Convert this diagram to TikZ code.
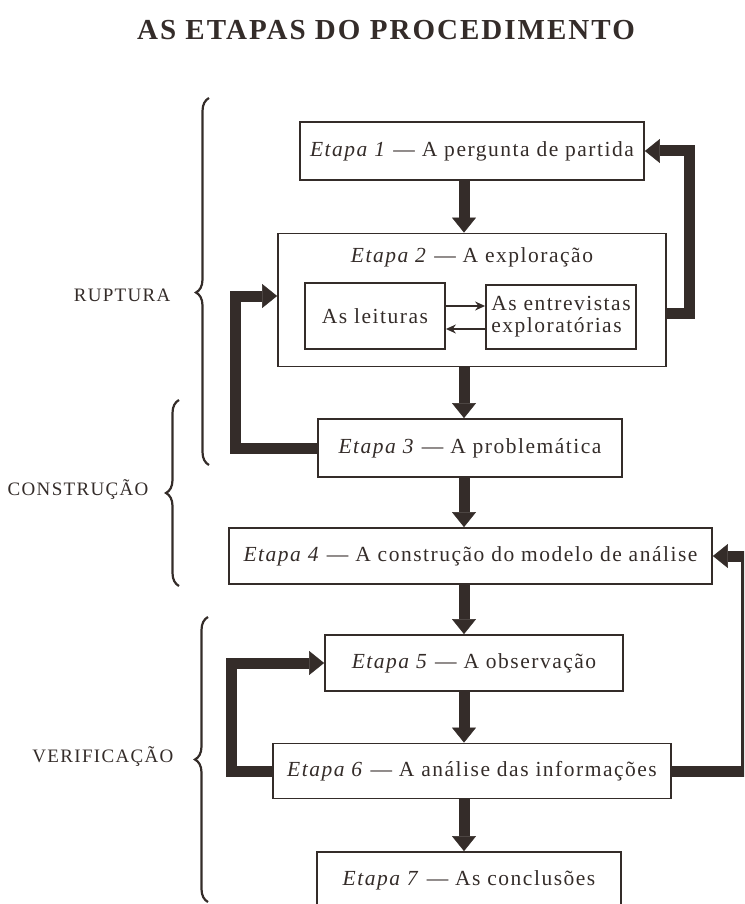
\documentclass[tikz,border=0pt]{standalone}
\usepackage{fontspec}
\setmainfont{Liberation Serif}[LetterSpace=7]
\usetikzlibrary{arrows.meta,decorations.pathreplacing}

\definecolor{ink}{RGB}{52,44,41}

\tikzset{
  etapa/.style={draw=ink, line width=1.8pt, minimum height=58pt, inner sep=0pt,
    text=ink, font=\fontsize{21.5}{22}\selectfont},
  grosso/.style={draw=ink, line width=11pt, line join=miter,
    -{Triangle[length=15pt,width=24pt,line width=0.5pt]}},
  fino/.style={draw=ink, line width=1.5pt, -{Stealth[length=10pt,width=9pt]}},
  chave/.style={draw=ink, line width=2.2pt, decorate,
    decoration={brace,amplitude=13pt}},
  fase/.style={anchor=east, text=ink, font=\fontsize{19}{20}\selectfont},
}

\begin{document}
\begin{tikzpicture}[x=1pt,y=-1pt]

      \useasboundingbox (0,0) rectangle (744,904);
      \clip (0,0) rectangle (744,904);

      \node[text=ink, font=\bfseries\fontsize{29}{30}\selectfont] (titulo) at (386,30)
        {AS ETAPAS DO PROCEDIMENTO};

      % as etapas
      \node[etapa, minimum width=344pt] (e1) at (472,151) {\textit{Etapa 1} — A pergunta de partida};
      \node[etapa, minimum width=388pt, minimum height=133pt] (e2) at (472,300) {};
      \node[etapa, draw=none] (e2t) at (472,257) {\textit{Etapa 2} — A exploração};
      \node[etapa, minimum width=140pt, minimum height=66pt] (lei) at (375,316) {As leituras};
      \node[etapa, minimum width=150pt, minimum height=64pt, align=left] (ent) at (561,317)
        {As entrevistas\\exploratórias};
      \node[etapa, minimum width=304pt] (e3) at (470,448) {\textit{Etapa 3} — A problemática};
      \node[etapa, minimum width=483pt, minimum height=56pt] (e4) at (470.5,556)
        {\textit{Etapa 4} — A construção do modelo de análise};
      \node[etapa, minimum width=298pt, minimum height=56pt] (e5) at (474,663) {\textit{Etapa 5} — A observação};
      \node[etapa, minimum width=398pt, minimum height=55pt] (e6) at (472,771)
        {\textit{Etapa 6} — A análise das informações};
      \node[etapa, minimum width=304pt, minimum height=56pt] (e7) at (469,880) {\textit{Etapa 7} — As conclusões};

      % as fases
      \node[fase] (rupt) at (174,295) {RUPTURA};
      \node[fase] (cons) at (152,490) {CONSTRUÇÃO};
      \node[fase] (veri) at (177,757) {VERIFICAÇÃO};
      \draw[chave, decoration={aspect=0.47}] (209,465) -- (209,98);
      \draw[chave] (179,586) -- (179,400);
      \draw[chave] (208,902) -- (208,617);

      \coordinate (eixo) at (464,0);
      \coordinate (dir1) at (689,0);
      \coordinate (dir2) at (746,0);
      \coordinate (esq1) at (235,0);
      \coordinate (esq2) at (231,0);

      % sequencia
      \draw[grosso] (e1.south -| eixo) -- (e2.north -| eixo);
      \draw[grosso] (e2.south -| eixo) -- (e3.north -| eixo);
      \draw[grosso] (e3.south -| eixo) -- (e4.north -| eixo);
      \draw[grosso] (e4.south -| eixo) -- (e5.north -| eixo);
      \draw[grosso] (e5.south -| eixo) -- (e6.north -| eixo);
      \draw[grosso] (e6.south -| eixo) -- (e7.north -| eixo);

      % retornos
      \draw[grosso] ([yshift=-13pt]e2.east) -| (e1.east -| dir1) -- (e1.east);
      \draw[grosso] (e3.west) -| ([yshift=4pt]e2.west -| esq1) -- ([yshift=4pt]e2.west);
      \draw[grosso] (e6.east) -| (e4.east -| dir2) -- (e4.east);
      \draw[grosso] (e6.west) -| (e5.west -| esq2) -- (e5.west);

      \draw[fino] ([yshift=10pt]lei.east) -- ([yshift=10pt]lei.east -| ent.west);
      \draw[fino] ([yshift=-12pt]ent.west) -- ([yshift=-12pt]ent.west -| lei.east);

\end{tikzpicture}
\end{document}
